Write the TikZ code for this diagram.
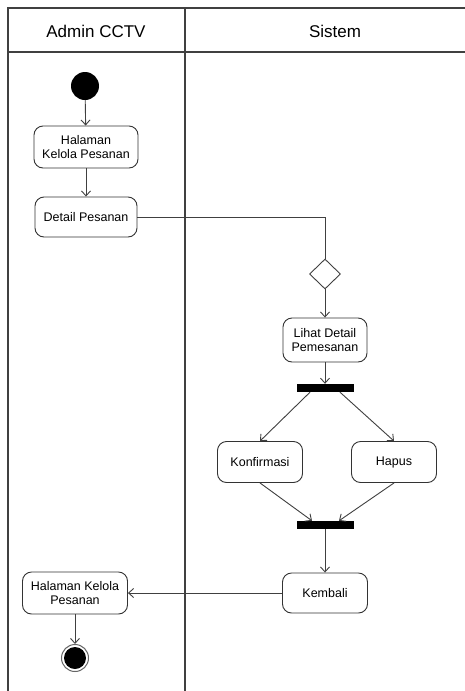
\documentclass[tikz,border=0pt]{standalone}
\usepackage{fontspec}
\setmainfont{Liberation Sans}
\usetikzlibrary{arrows.meta,shapes.geometric}

\tikzset{
  flow/.style={draw=black!75, line width=0.9pt, -{Straight Barb[length=5pt,width=9pt]}},
  plain/.style={draw=black!75, line width=0.9pt},
  act/.style={draw=black!80, line width=0.9pt, rounded corners=9pt, align=center,
    font=\fontsize{12.5}{14.5}\selectfont, inner sep=2pt},
  bar/.style={fill=black, draw=none, minimum width=57pt, minimum height=8pt, inner sep=0pt},
  lane/.style={draw=black!75, line width=1.3pt}
}

\begin{document}
\begin{tikzpicture}[x=1pt, y=-1pt]
  \useasboundingbox (0,0) rectangle (465,691);
  \fill[white] (0,0) rectangle (465,691);

  \draw[lane] (8,691) -- (8,8) -- (465,8);
  \draw[lane] (8,52) -- (465,52);
  \draw[lane] (185,8) -- (185,691);
  \node[font=\fontsize{17}{20}\selectfont] (admin) at (96,31) {Admin CCTV};
  \node[font=\fontsize{17}{20}\selectfont] (sistem) at (335,31) {Sistem};

  \node[circle, fill=black, minimum size=28pt, inner sep=0pt] (start) at (85,86) {};
  \node[act, minimum width=104pt, minimum height=42pt] (halaman) at (86,147) {Halaman\\Kelola Pesanan};
  \node[act, minimum width=102pt, minimum height=40pt] (detail) at (86,217) {Detail Pesanan};
  \node[diamond, draw=black!75, line width=0.9pt, minimum width=31pt, minimum height=30pt, inner sep=0pt] (cek) at (325,274) {};
  \node[act, minimum width=84pt, minimum height=44pt] (lihat) at (325,340) {Lihat Detail\\Pemesanan};
  \node[bar] (fork) at (325,388) {};
  \node[act, minimum width=85pt, minimum height=41pt] (konfirmasi) at (260,462) {Konfirmasi};
  \node[act, minimum width=85pt, minimum height=41pt] (hapus) at (394,462) {Hapus};
  \node[bar] (join) at (325,525) {};
  \node[act, minimum width=85pt, minimum height=40pt] (kembali) at (325,593) {Kembali};
  \node[act, minimum width=105pt, minimum height=42pt] (halaman2) at (75,593) {Halaman Kelola\\Pesanan};
  \node[circle, draw=black!60, line width=1pt, fill=white, minimum size=27pt, inner sep=0pt] (end) at (75,658) {};
  \fill[black] (end.center) circle (11pt);

  \draw[flow] (start) -- (halaman);
  \draw[flow] (halaman) -- (detail);
  \draw[plain] (detail.east) -| (cek.north);
  \draw[flow] (cek.south) -- (lihat.north);
  \draw[flow] (lihat.south) -- (fork.north);
  \draw[flow] ([xshift=-15pt]fork.south) -- (konfirmasi.north);
  \draw[flow] ([xshift=15pt]fork.south) -- (hapus.north);
  \draw[flow] (konfirmasi.south) -- ([xshift=-13pt]join.north);
  \draw[flow] (hapus.south) -- ([xshift=14pt]join.north);
  \draw[flow] (join.south) -- (kembali.north);
  \draw[flow] (kembali.west) -- (halaman2.east);
  \draw[flow] (halaman2.south) -- (end.north);
\end{tikzpicture}
\end{document}
